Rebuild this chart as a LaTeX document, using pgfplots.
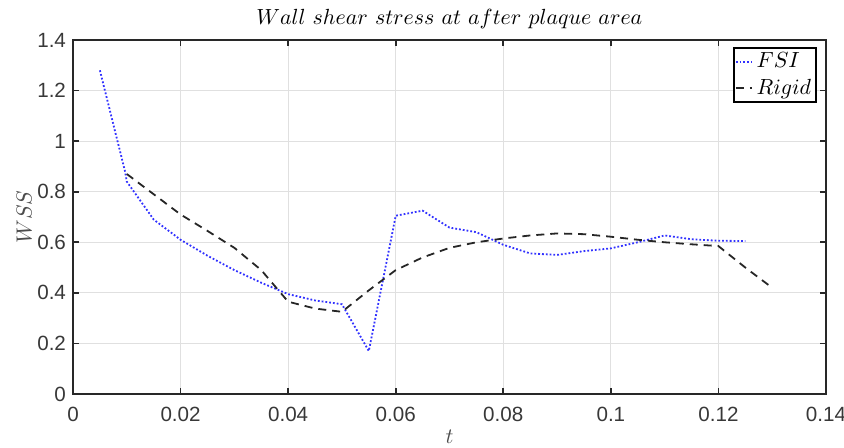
\documentclass[border=0pt]{standalone}
\usepackage{pgfplots}
\pgfplotsset{compat=1.18}
\usepackage{fontspec}
\newfontfamily\ticksans{Liberation Sans}
\definecolor{gridgray}{RGB}{224,224,224}
\definecolor{fsiblue}{RGB}{50,50,255}
\definecolor{axgray}{RGB}{40,40,40}
\begin{document}
\begin{tikzpicture}
\useasboundingbox (-36.5pt,-27pt) rectangle (385.5pt,197pt);
\begin{axis}[
  name=main,
  at={(0pt,0pt)}, anchor=south west,
  scale only axis,
  width=376.5pt, height=177pt,
  xmin=0, xmax=0.14, ymin=0, ymax=1.4,
  xtick={0,0.02,...,0.14},
  ytick={0,0.2,...,1.4},
  xticklabels={0,0.02,0.04,0.06,0.08,0.1,0.12,0.14},
  yticklabels={0,0.2,0.4,0.6,0.8,1,1.2,1.4},
  tick label style={font=\ticksans\fontsize{10.3}{12}\selectfont, text=black!78},
  xticklabel style={yshift=-3pt},
  yticklabel style={xshift=0pt},
  grid=major,
  major grid style={gridgray, line width=0.6pt},
  axis line style={axgray, line width=1pt},
  tick style={axgray, line width=0.8pt},
  tick align=inside,
  major tick length=3pt,
  title={$Wall\ shear\ stress\ at\ after\ plaque\ area$},
  title style={font=\fontsize{11}{13}\selectfont, yshift=-3.8pt},
  xlabel={$t$}, ylabel={$WSS$},
  xlabel style={font=\fontsize{11}{13}\selectfont, text=black!70, yshift=2.8pt},
  ylabel style={font=\fontsize{11}{13}\selectfont, text=black!70, yshift=-4pt},
  legend style={at={(0.988,0.98)}, anchor=north east, draw=black, line width=0.8pt,
    font=\fontsize{10.5}{12}\selectfont, inner sep=0.5pt, row sep=0pt},
  legend cell align=left,
  legend image code/.code={\draw[#1, line width=0.8pt] (0pt,0pt) -- (8pt,0pt);},
]
\addplot[fsiblue, densely dotted, line width=0.9pt] coordinates {
(0.005,1.28) (0.0097,0.878) (0.01,0.84) (0.015,0.69) (0.02,0.61) (0.025,0.547)
(0.03,0.49) (0.035,0.44) (0.04,0.395) (0.045,0.37) (0.05,0.355)
(0.055,0.17) (0.06,0.705) (0.065,0.725) (0.07,0.658) (0.075,0.64)
(0.08,0.59) (0.085,0.556) (0.09,0.55) (0.095,0.565) (0.1,0.576)
(0.105,0.60) (0.11,0.627) (0.115,0.612) (0.12,0.606) (0.125,0.605)
};
\addlegendentry{$FSI$}
\addplot[black!85, dash pattern=on 4pt off 3pt, line width=0.9pt] coordinates {
(0.01,0.87) (0.015,0.79) (0.02,0.71) (0.025,0.645) (0.03,0.578)
(0.035,0.49) (0.04,0.365) (0.045,0.338) (0.05,0.325) (0.055,0.41)
(0.06,0.49) (0.065,0.54) (0.07,0.578) (0.075,0.60) (0.08,0.615)
(0.085,0.627) (0.09,0.635) (0.095,0.632) (0.1,0.622) (0.105,0.61)
(0.11,0.60) (0.115,0.592) (0.12,0.585) (0.125,0.50) (0.13,0.42)
};
\addlegendentry{$Rigid$}
\end{axis}
\end{tikzpicture}
\end{document}
